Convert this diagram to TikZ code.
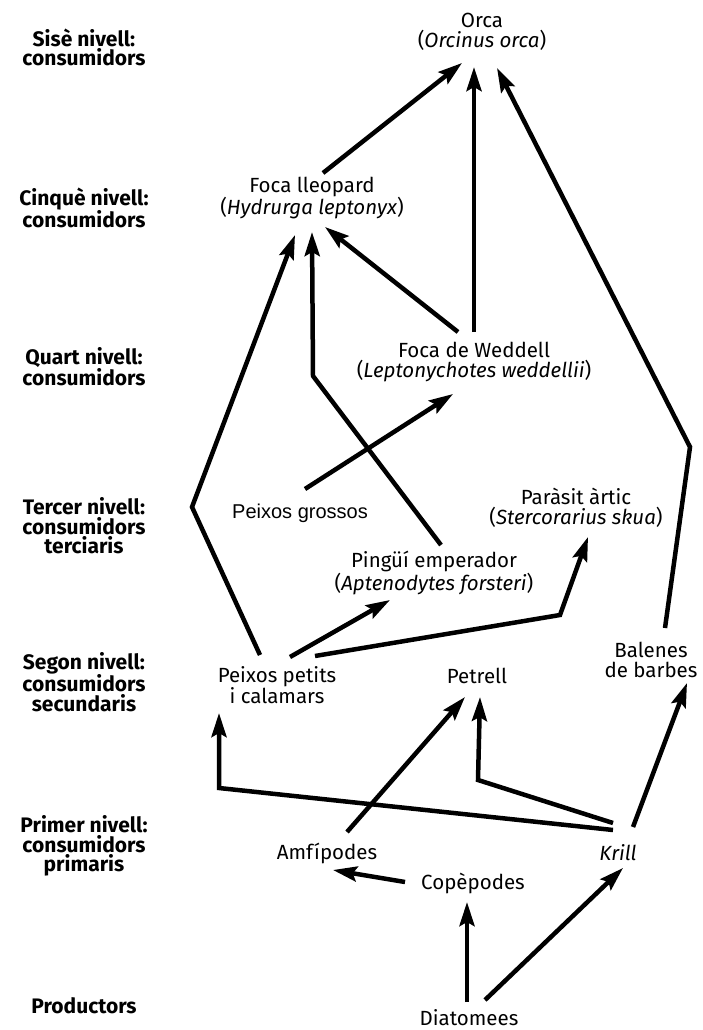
\documentclass[tikz,border=0pt]{standalone}
\usepackage{fontspec}
\setmainfont{Fira Sans}
\newfontfamily\arialf{Liberation Sans}
\usetikzlibrary{arrows.meta}
\begin{document}
\begin{tikzpicture}[x=1pt,y=-1pt,
  sp/.style={font=\fontsize{20.5}{20.5}\selectfont, align=center, inner sep=0pt},
  lvl/.style={font=\fontsize{21}{19.5}\selectfont\bfseries, align=center, inner sep=0pt},
  arr/.style={line width=4.5pt, line join=miter, -{Stealth[length=24pt,width=15pt,inset=4pt]}},
  ln/.style={line width=4.5pt, line join=miter}]
\useasboundingbox[fill=white] (0,0) rectangle (702,1030);

% level labels
\node[lvl] (l6) at (84,47.5) {Sisè nivell:\\consumidors};
\node[lvl] (l5) at (84,208) {Cinquè nivell:\\consumidors};
\node[lvl] (l4) at (84,367) {Quart nivell:\\consumidors};
\node[lvl] (l3) at (84,526) {Tercer nivell:\\consumidors\\terciaris};
\node[lvl] (l2) at (84,682) {Segon nivell:\\consumidors\\secundaris};
\node[lvl] (l1) at (84,846) {Primer nivell:\\consumidors\\primaris};
\node[lvl] (l0) at (84,1006) {Productors};

% species
\node[sp] (orca) at (482,32) {Orca\\(\textit{Orcinus orca})};
\node[sp] (leop) at (312,198) {Foca lleopard\\(\textit{Hydrurga leptonyx})};
\node[sp] (wedd) at (474,362) {Foca de Weddell\\(\textit{Leptonychotes weddellii})};
\node[sp,font=\arialf\fontsize{20}{20}\selectfont] (gros) at (300,513) {Peixos grossos};
\node[sp] (para) at (576,508) {Paràsit àrtic\\(\textit{Stercorarius skua})};
\node[sp] (ping) at (434,573) {Pingüí emperador\\(\textit{Aptenodytes forsteri})};
\node[sp] (pet) at (277,685) {Peixos petits\\i calamars};
\node[sp] (petr) at (477,676) {Petrell};
\node[sp] (bal) at (651,660) {Balenes\\de barbes};
\node[sp] (amf) at (327,853) {Amfípodes};
\node[sp] (kri) at (618,853) {\textit{Krill}};
\node[sp] (cop) at (473,883) {Copèpodes};
\node[sp] (dia) at (469,1018) {Diatomees};

% bend points
\coordinate (bbal) at (690,447);
\coordinate (bpet) at (192,507);
\coordinate (bping) at (313,376);
\coordinate (bpara) at (560,615);
\coordinate (bkp) at (219,788);
\coordinate (bkr) at (478,780);

% connectors
\draw[arr] ([shift={(11,-25)}]leop.center) -- ([shift={(-20,31)}]orca.center);
\draw[arr] ([shift={(0,-30)}]wedd.center) -- ([shift={(-8,35)}]orca.center);
\draw[arr] ([shift={(14,-32)}]bal.center) -- (bbal) -- ([shift={(15,36)}]orca.center);
\draw[arr] ([shift={(-16,-30)}]wedd.center) -- ([shift={(13,29)}]leop.center);
\draw[arr] ([shift={(-17,-30)}]pet.center) -- (bpet) -- ([shift={(-17,37)}]leop.center);
\draw[arr] ([shift={(7,-28)}]ping.center) -- (bping) -- ([shift={(0,34)}]leop.center);
\draw[arr] ([shift={(5,-24)}]gros.center) -- ([shift={(-21,32)}]wedd.center);
\draw[arr] ([shift={(13,-28)}]pet.center) -- ([shift={(-44,27)}]ping.center);
\draw[arr] ([shift={(38,-29)}]pet.center) -- (bpara) -- ([shift={(12,29)}]para.center);
\draw[arr] ([shift={(-5,-23)}]kri.center) -- (bkp) -- ([shift={(-58,28)}]pet.center);
\draw[arr] ([shift={(-5,-30)}]kri.center) -- (bkr) -- ([shift={(3,21)}]petr.center);
\draw[arr] ([shift={(20,-21)}]amf.center) -- ([shift={(-12,21)}]petr.center);
\draw[arr] ([shift={(15,-26)}]kri.center) -- ([shift={(36,23)}]bal.center);
\draw[arr] ([shift={(-68,-1)}]cop.center) -- ([shift={(6,17)}]amf.center);
\draw[arr] ([shift={(-2,-16)}]dia.center) -- ([shift={(-6,19)}]cop.center);
\draw[arr] ([shift={(16,-18)}]dia.center) -- ([shift={(5,15)}]kri.center);
\end{tikzpicture}
\end{document}
